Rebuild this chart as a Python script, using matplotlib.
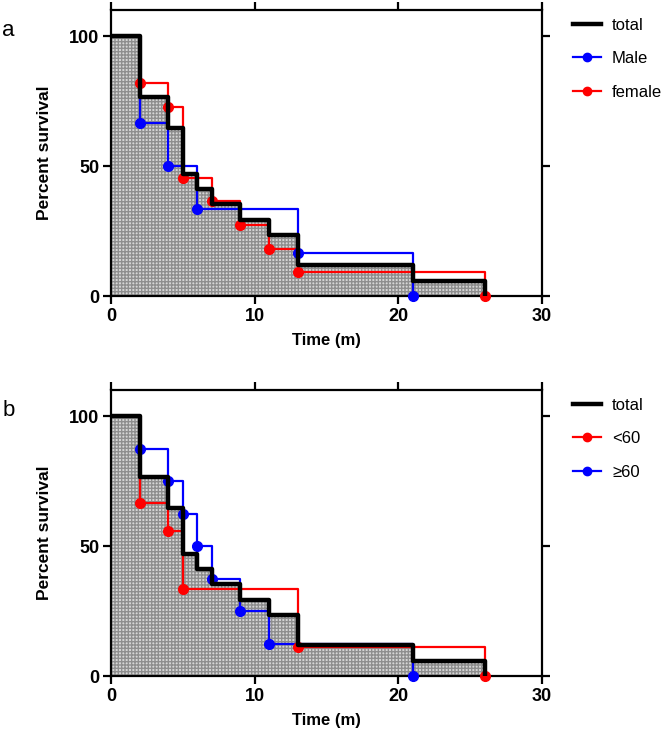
import numpy as np
import matplotlib
matplotlib.use('Agg')
import matplotlib.pyplot as plt
from matplotlib.lines import Line2D

plt.rcParams['font.family'] = ['Liberation Sans', 'DejaVu Sans']
plt.rcParams['hatch.linewidth'] = 1.0

# Kaplan-Meier step data (time in months, percent survival)
total_t = [0, 2, 4, 5, 6, 7, 9, 11, 13, 21, 26]
total_s = [100, 76.5, 64.7, 47.1, 41.2, 35.3, 29.4, 23.5, 11.8, 5.9, 0]

male_t = [0, 2, 4, 6, 13, 21]
male_s = [100, 66.7, 50.0, 33.3, 16.7, 0]

female_t = [0, 2, 4, 5, 7, 9, 11, 13, 26]
female_s = [100, 81.8, 72.7, 45.5, 36.4, 27.3, 18.2, 9.1, 0]

young_t = [0, 2, 4, 5, 13, 26]
young_s = [100, 66.7, 55.6, 33.3, 11.1, 0]

old_t = [0, 2, 4, 5, 6, 7, 9, 11, 21]
old_s = [100, 87.5, 75.0, 62.5, 50.0, 37.5, 25.0, 12.5, 0]

xticks = [0, 10, 20, 30]
yticks = [0, 50, 100]

fig = plt.figure(figsize=(6.65, 7.36), dpi=100)
ax_a = fig.add_axes([0.1669, 0.5978, 0.6481, 0.3886])
ax_b = fig.add_axes([0.1669, 0.0815, 0.6481, 0.3886])


def km_panel(ax, groups, letter):
    # shaded area under the pooled curve
    ax.fill_between(total_t, total_s, step='post', facecolor='#d6d6d6',
                    hatch='+++++', edgecolor='#8e8e8e', linewidth=0, zorder=1)
    for t, s, color in groups:
        ax.step(t, s, where='post', color=color, lw=1.6, zorder=3)
        ax.plot(t[1:], s[1:], 'o', color=color, ms=7, zorder=4, clip_on=False)
    ax.step(total_t, total_s, where='post', color='black', lw=3.2, zorder=5)

    ax.set_xlim(0, 30)
    ax.set_ylim(0, 110)
    ax.set_xticks(xticks)
    ax.set_yticks(yticks)
    ax.tick_params(direction='out', length=5.5, width=1.6, top=True, right=True,
                   labelsize=13, pad=3)
    for lab in ax.get_xticklabels() + ax.get_yticklabels():
        lab.set_fontweight('bold')
    for sp in ax.spines.values():
        sp.set_linewidth(1.6)
    ax.set_xlabel('Time (m)', fontsize=12, fontweight='bold', labelpad=6)
    ax.set_ylabel('Percent survival', fontsize=12.5, fontweight='bold', labelpad=12)
    ax.text(-0.252, 0.93, letter, transform=ax.transAxes, fontsize=16,
            va='center', ha='left')


km_panel(ax_a, [(male_t, male_s, '#0000ff'), (female_t, female_s, '#ff0000')], 'a')
km_panel(ax_b, [(young_t, young_s, '#ff0000'), (old_t, old_s, '#0000ff')], 'b')

leg_kw = dict(loc='upper left', bbox_to_anchor=(1.037, 1.025), frameon=False,
              fontsize=12, handlelength=1.7, labelspacing=1.1, handletextpad=0.65)

leg_a = [Line2D([], [], color='black', lw=3.2),
         Line2D([], [], color='#0000ff', lw=1.6, marker='o', ms=6),
         Line2D([], [], color='#ff0000', lw=1.6, marker='o', ms=6)]
ax_a.legend(leg_a, ['total', 'Male', 'female'], **leg_kw)

leg_b = [Line2D([], [], color='black', lw=3.2),
         Line2D([], [], color='#ff0000', lw=1.6, marker='o', ms=6),
         Line2D([], [], color='#0000ff', lw=1.6, marker='o', ms=6)]
ax_b.legend(leg_b, ['total', '<60', '≥60'], **leg_kw)

fig.savefig('out.png', dpi=100)
